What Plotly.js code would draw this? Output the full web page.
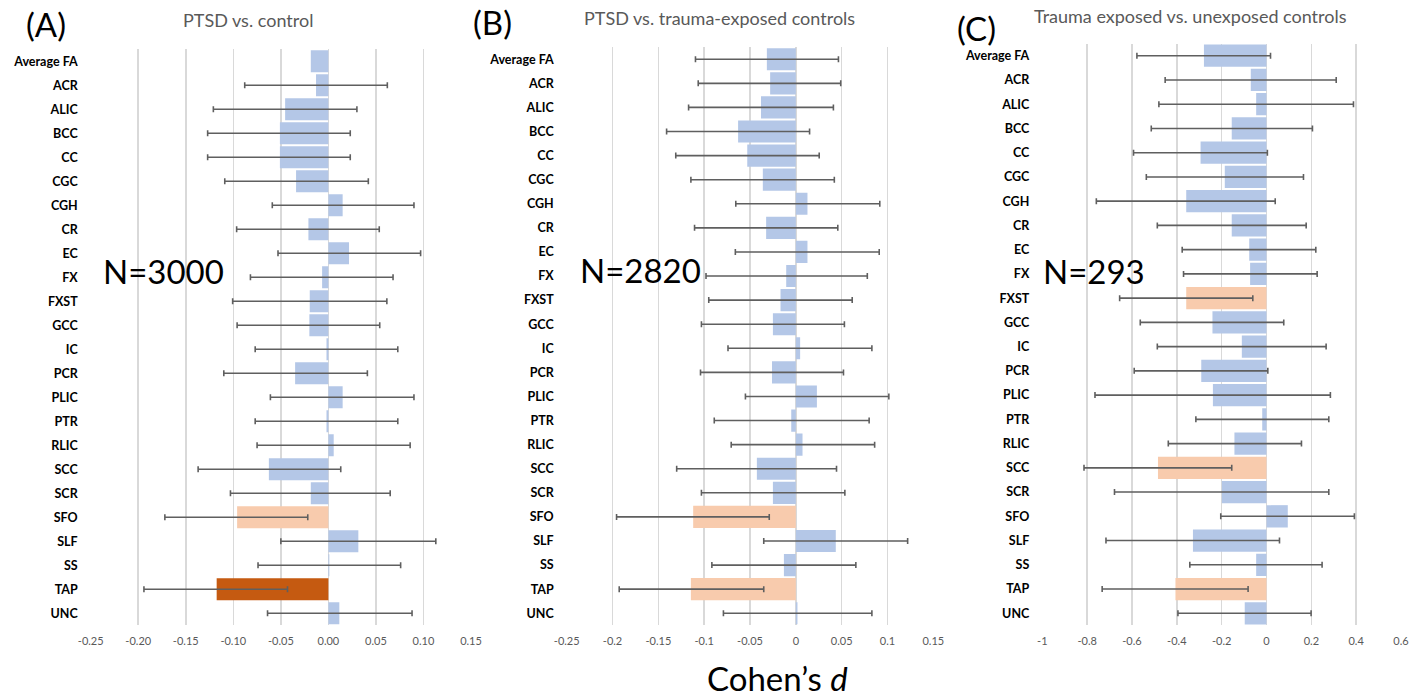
<!DOCTYPE html>
<html><head><meta charset="utf-8">
<script src="https://cdn.plot.ly/plotly-3.0.1.min.js"></script>
<style>html,body{margin:0;padding:0;background:#fff}#chart{width:1417px;height:698px}</style>
</head><body><div id="chart"></div>
<script>
const regions = ['Average FA','ACR','ALIC','BCC','CC','CGC','CGH','CR','EC','FX','FXST','GCC','IC','PCR','PLIC','PTR','RLIC','SCC','SCR','SFO','SLF','SS','TAP','UNC'];

// (A) PTSD vs. control
const dA  = [-0.0185,-0.013,-0.0455,-0.051,-0.051,-0.034,0.015,-0.021,0.0217,-0.0066,-0.0196,-0.020,-0.002,-0.035,0.015,-0.002,0.0056,-0.0626,-0.0185,-0.096,0.0315,0.001,-0.1175,0.0115];
const loA = [null,-0.088,-0.121,-0.127,-0.127,-0.109,-0.059,-0.0965,-0.053,-0.082,-0.1007,-0.096,-0.077,-0.110,-0.061,-0.077,-0.075,-0.137,-0.103,-0.172,-0.050,-0.074,-0.194,-0.064];
const hiA = [null,0.062,0.030,0.023,0.023,0.042,0.090,0.0535,0.097,0.068,0.0615,0.054,0.073,0.041,0.090,0.073,0.086,0.013,0.065,-0.0217,0.113,0.076,-0.043,0.088];

// (B) PTSD vs. trauma-exposed controls
const dB  = [-0.0316,-0.028,-0.038,-0.063,-0.053,-0.036,0.0127,-0.0324,0.0127,-0.0105,-0.0167,-0.025,0.0047,-0.026,0.023,-0.005,0.0073,-0.0425,-0.025,-0.112,0.0436,-0.013,-0.1145,0.0018];
const loB = [-0.1095,-0.1065,-0.117,-0.141,-0.131,-0.1145,-0.0655,-0.1105,-0.066,-0.098,-0.095,-0.103,-0.074,-0.104,-0.055,-0.089,-0.0705,-0.130,-0.103,-0.1956,-0.035,-0.0916,-0.1927,-0.079];
const hiB = [0.0465,0.049,0.041,0.015,0.0255,0.042,0.0916,0.0458,0.091,0.078,0.0615,0.053,0.083,0.052,0.1015,0.080,0.086,0.0444,0.0535,-0.029,0.122,0.0655,-0.035,0.083];

// (C) Trauma exposed vs. unexposed controls
const dC  = [-0.279,-0.070,-0.046,-0.155,-0.294,-0.186,-0.358,-0.155,-0.077,-0.073,-0.358,-0.241,-0.110,-0.291,-0.239,-0.019,-0.143,-0.484,-0.199,0.095,-0.328,-0.046,-0.406,-0.097];
const loC = [-0.578,-0.452,-0.480,-0.514,-0.593,-0.536,-0.759,-0.487,-0.376,-0.370,-0.655,-0.563,-0.487,-0.590,-0.765,-0.315,-0.438,-0.814,-0.678,-0.204,-0.716,-0.342,-0.733,-0.395];
const hiC = [0.018,0.311,0.388,0.205,0.004,0.165,0.039,0.177,0.220,0.226,-0.061,0.077,0.266,0.006,0.285,0.278,0.156,-0.155,0.278,0.392,0.058,0.248,-0.082,0.199];

// significance highlights per panel
const sigA = {SFO:'light', TAP:'dark'};
const sigB = {SFO:'light', TAP:'light'};
const sigC = {FXST:'light', SCC:'light', TAP:'light'};

const panelTitles = ['PTSD vs. control','PTSD vs. trauma-exposed controls','Trauma exposed vs. unexposed controls'];
const panelLetters = ['(A)','(B)','(C)'];
const panelN = ['N=3000','N=2820','N=293'];
const xTicksA = [-0.25,-0.20,-0.15,-0.10,-0.05,0.00,0.05,0.10,0.15];
const xTicksB = [-0.25,-0.2,-0.15,-0.1,-0.05,0,0.05,0.1,0.15];
const xTicksC = [-1,-0.8,-0.6,-0.4,-0.2,0,0.2,0.4,0.6];

const COL = {base:'#b4c7e7', light:'#f8cbad', dark:'#c55a11'};
const W = 1417, H = 698;
const FONT = 'Lato, "Open Sans", sans-serif';

function trace(d, lo, hi, sig, idx){
  const sfx = idx === 1 ? '' : String(idx);
  return {
    type:'bar', orientation:'h', x:d, y:regions,
    xaxis:'x'+sfx, yaxis:'y'+sfx,
    marker:{color: regions.map(r => COL[sig[r] || 'base']), line:{width:0}},
    error_x:{type:'data', symmetric:false,
      array: d.map((v,i) => hi[i] === null ? NaN : hi[i]-v),
      arrayminus: d.map((v,i) => lo[i] === null ? NaN : v-lo[i]),
      color:'#5f5f5f', thickness:1.6, width:3},
    hoverinfo:'x+y', showlegend:false
  };
}

const data = [trace(dA,loA,hiA,sigA,1), trace(dB,loB,hiB,sigB,2), trace(dC,loC,hiC,sigC,3)];

function px(x){return x/W;}
function py(y){return 1-y/H;}

function xax(dom, range, ticks, fmt, anchor){
  return {domain:dom, range:range, anchor:anchor, tickvals:ticks, ticktext:ticks.map(fmt),
    showgrid:true, gridcolor:'#d9d9d9', gridwidth:1.5, zeroline:false, showline:false,
    ticks:'', ticklabelstandoff:8, tickfont:{family:FONT, size:11, color:'#595959'}, fixedrange:true};
}
function yax(dom, anchor){
  return {domain:dom, anchor:anchor, type:'category', autorange:'reversed',
    showgrid:false, zeroline:false, showline:false, ticks:'', ticklabelstandoff:12,
    tickfont:{family:FONT, size:12.5, color:'#000', weight:'bold'}, fixedrange:true};
}

const layout = {
  width:W, height:H, margin:{l:0,r:0,t:0,b:0}, paper_bgcolor:'#fff', plot_bgcolor:'rgba(0,0,0,0)',
  bargap:0.08, showlegend:false, font:{family:FONT},
  xaxis:  xax([px(90.7),px(471)],  [-0.25,0.15], xTicksA, v=>v.toFixed(2), 'y'),
  xaxis2: xax([px(566.7),px(933.3)],[-0.25,0.15], xTicksB, v=>String(v), 'y2'),
  xaxis3: xax([px(1042.3),px(1401)],[-1,0.6], xTicksC, v=>String(v), 'y3'),
  yaxis:  yax([py(625.3),py(49.3)], 'x'),
  yaxis2: yax([py(625.3),py(47.2)], 'x2'),
  yaxis3: yax([py(625.4),py(43.6)], 'x3'),
  annotations:[]
};

const letterPos = [[46,24],[492,22],[976,28]];
const titlePos = [[248,20],[719,18],[1190,16]];
const nPos = [[163,271],[640,270],[1094,271]];
for(let i=0;i<3;i++){
  layout.annotations.push({xref:'paper',yref:'paper',x:px(letterPos[i][0]),y:py(letterPos[i][1]),
    text:panelLetters[i],showarrow:false,xanchor:'center',yanchor:'middle',font:{family:FONT,size:33,color:'#000'}});
  layout.annotations.push({xref:'paper',yref:'paper',x:px(titlePos[i][0]),y:py(titlePos[i][1]),
    text:panelTitles[i],showarrow:false,xanchor:'center',yanchor:'middle',font:{family:FONT,size:18,color:'#595959'}});
  layout.annotations.push({xref:'paper',yref:'paper',x:px(nPos[i][0]),y:py(nPos[i][1]),
    text:panelN[i],showarrow:false,xanchor:'center',yanchor:'middle',font:{family:FONT,size:33,color:'#000'}});
}
layout.annotations.push({xref:'paper',yref:'paper',x:px(777),y:py(678),
  text:'Cohen’s <i>d</i>',showarrow:false,xanchor:'center',yanchor:'middle',font:{family:FONT,size:33,color:'#000'}});

Plotly.newPlot('chart', data, layout, {displayModeBar:false, staticPlot:true});
</script></body></html>
